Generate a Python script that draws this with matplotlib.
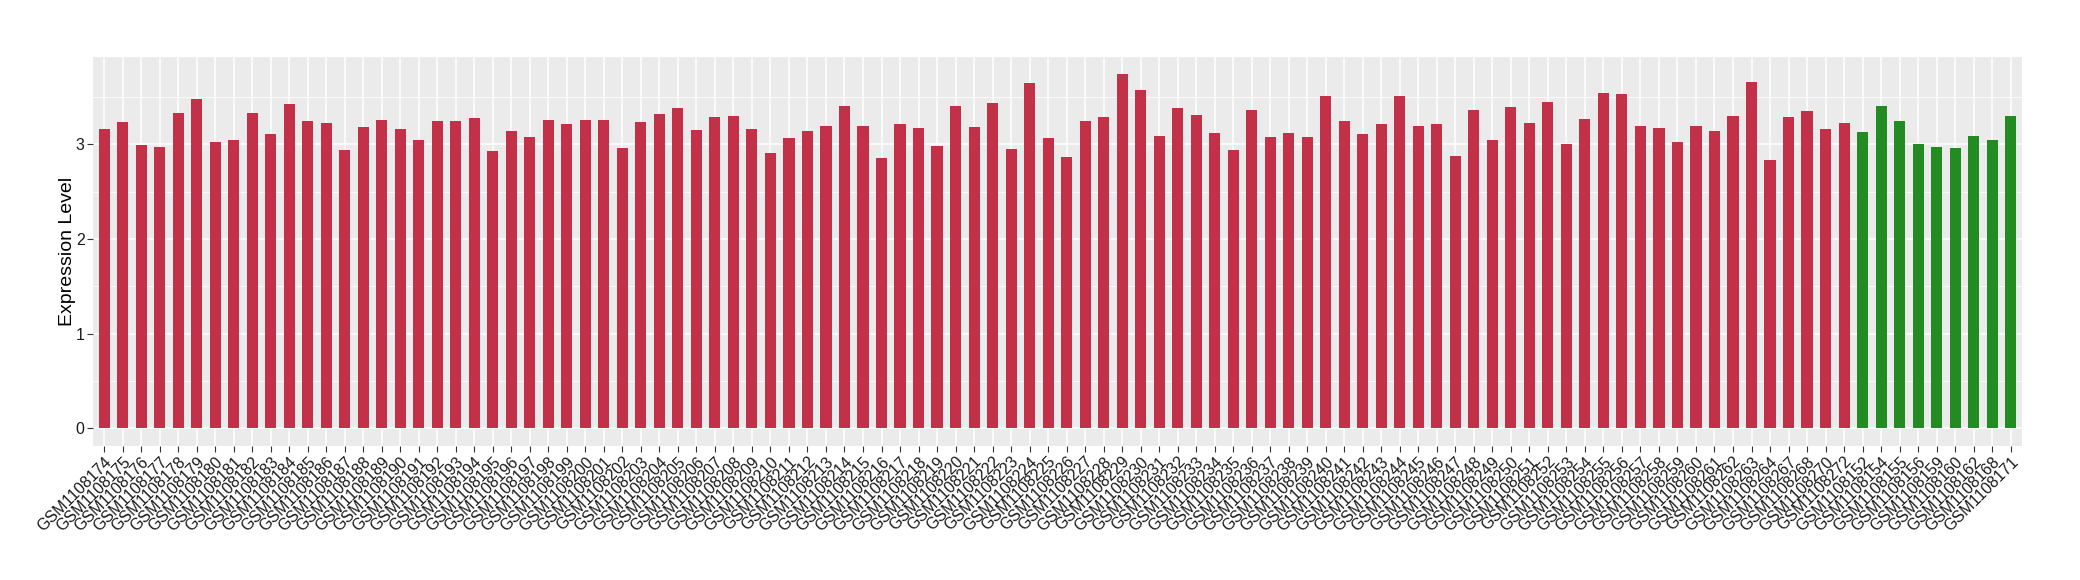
import numpy as np
import matplotlib.pyplot as plt

plt.rcParams['font.family'] = ['Liberation Sans', 'DejaVu Sans']

# sample ids (red group, then green group)
red_ids = list(range(1108174, 1108265)) + [1108267, 1108268, 1108270, 1108272]
green_ids = [1108152, 1108154, 1108155, 1108156, 1108159, 1108160, 1108162, 1108168, 1108171]

red_vals = [3.162, 3.236, 2.993, 2.972, 3.331, 3.479, 3.025, 3.046, 3.331, 3.109,
            3.426, 3.246, 3.225, 2.940, 3.183, 3.257, 3.162, 3.046, 3.246, 3.246,
            3.278, 2.930, 3.141, 3.077, 3.257, 3.215, 3.257, 3.257, 2.961, 3.236,
            3.320, 3.384, 3.151, 3.289, 3.299, 3.162, 2.908, 3.067, 3.141, 3.194,
            3.405, 3.194, 2.856, 3.215, 3.173, 2.982, 3.405, 3.183, 3.437, 2.951,
            3.648, 3.067, 2.866, 3.246, 3.289, 3.743, 3.574, 3.088, 3.384, 3.310,
            3.120, 2.940, 3.363, 3.077, 3.120, 3.077, 3.511, 3.246, 3.109, 3.215,
            3.511, 3.194, 3.215, 2.877, 3.363, 3.046, 3.394, 3.225, 3.447, 3.004,
            3.268, 3.542, 3.532, 3.194, 3.173, 3.025, 3.194, 3.141, 3.299, 3.658,
            2.835, 3.289, 3.352, 3.162, 3.225]
green_vals = [3.130, 3.405, 3.246, 3.004, 2.972, 2.961, 3.088, 3.046, 3.299]

labels = ['GSM' + str(i) for i in red_ids + green_ids]
values = red_vals + green_vals
colors = ['#c33149'] * len(red_vals) + ['#228b22'] * len(green_vals)

fig = plt.figure(figsize=(20.8, 5.8), dpi=100)
ax = fig.add_axes([0.0447, 0.2316, 0.9273, 0.6706])

x = np.arange(len(values))
ax.set_facecolor('#ebebeb')
ax.set_axisbelow(True)
ax.bar(x, values, width=0.6, color=colors, zorder=3)

ax.set_xlim(-0.6, len(values) - 0.4)
ax.set_ylim(-0.184, 3.925)
ax.set_yticks([0, 1, 2, 3])
ax.set_yticks([0.5, 1.5, 2.5, 3.5], minor=True)
ax.set_xticks(x)
ax.set_xticklabels(labels, rotation=45, ha='right', va='top', rotation_mode='anchor', fontsize=11.5)

ax.grid(which='major', color='white', linewidth=1.1)
ax.grid(which='minor', axis='y', color='white', linewidth=0.55)
for s in ax.spines.values():
    s.set_visible(False)
ax.tick_params(axis='both', which='major', color='#333333', length=4, width=0.8, labelcolor='#1a1a1a', labelsize=11.5, pad=2)
ax.tick_params(axis='y', which='minor', length=0)

ax.set_ylabel('Expression Level', fontsize=14, labelpad=0)

fig.savefig('out.png', dpi=100)
